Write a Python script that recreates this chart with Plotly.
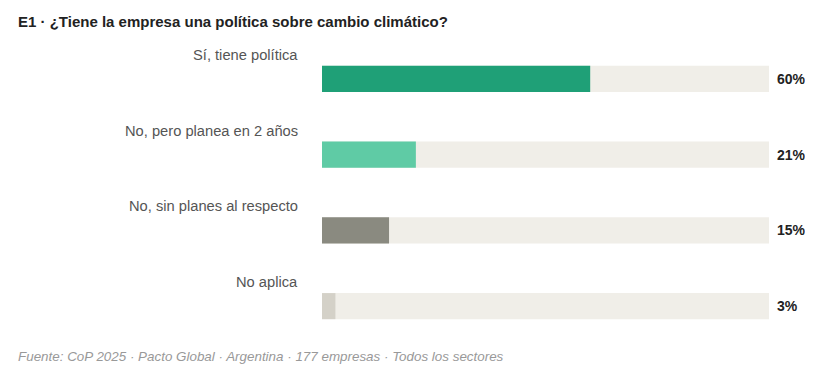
import plotly.graph_objects as go

categories = ["Sí, tiene política", "No, pero planea en 2 años", "No, sin planes al respecto", "No aplica"]
values = [60, 21, 15, 3]
value_labels = ["60%", "21%", "15%", "3%"]
colors = ["#1fa077", "#5fcba5", "#8a8a80", "#d4d1c8"]
track_max = 100

title_text = "E1 · ¿Tiene la empresa una política sobre cambio climático?"
source_text = "Fuente: CoP 2025 · Pacto Global · Argentina · 177 empresas · Todos los sectores"

FONT = "Arial, Liberation Sans, sans-serif"
ypos = list(range(len(categories)))

fig = go.Figure()
fig.add_trace(go.Bar(
    x=[track_max] * len(categories), y=ypos, orientation="h",
    marker=dict(color="#f0eee8", line=dict(width=0)), width=0.344,
    hoverinfo="skip", showlegend=False))
fig.add_trace(go.Bar(
    x=values, y=ypos, orientation="h",
    marker=dict(color=colors, line=dict(width=0)), width=0.344,
    showlegend=False))

L = 314
annotations = []
for i, (c, v) in enumerate(zip(categories, value_labels)):
    annotations.append(dict(xref="paper", yref="y", x=0, y=i - 0.317, text=c,
                            xanchor="right", yanchor="middle", xshift=-22, showarrow=False,
                            font=dict(family=FONT, size=14.7, color="#555555")))
    annotations.append(dict(xref="paper", yref="y", x=1, y=i, text="<b>" + v + "</b>",
                            xanchor="left", yanchor="middle", xshift=6, showarrow=False,
                            font=dict(family=FONT, size=14, color="#222222")))
annotations.append(dict(xref="paper", yref="paper", x=0, y=1, text="<b>" + title_text + "</b>",
                        xanchor="left", yanchor="middle", showarrow=False, xshift=-(L - 8), yshift=20,
                        font=dict(family=FONT, size=15, color="#222222")))
annotations.append(dict(xref="paper", yref="paper", x=0, y=0, text="<i>" + source_text + "</i>",
                        xanchor="left", yanchor="middle", showarrow=False, xshift=-(L - 8), yshift=-12,
                        font=dict(family=FONT, size=13.4, color="#999999")))

fig.update_layout(
    width=797, height=366,
    margin=dict(l=L, r=36, t=33, b=30),
    barmode="overlay",
    paper_bgcolor="white", plot_bgcolor="white",
    xaxis=dict(range=[0, track_max], visible=False, fixedrange=True),
    yaxis=dict(range=[len(categories) - 0.5, -0.5], visible=False, fixedrange=True),
    annotations=annotations,
    font=dict(family=FONT),
)
fig.write_html("out.html", config={"displayModeBar": False})
